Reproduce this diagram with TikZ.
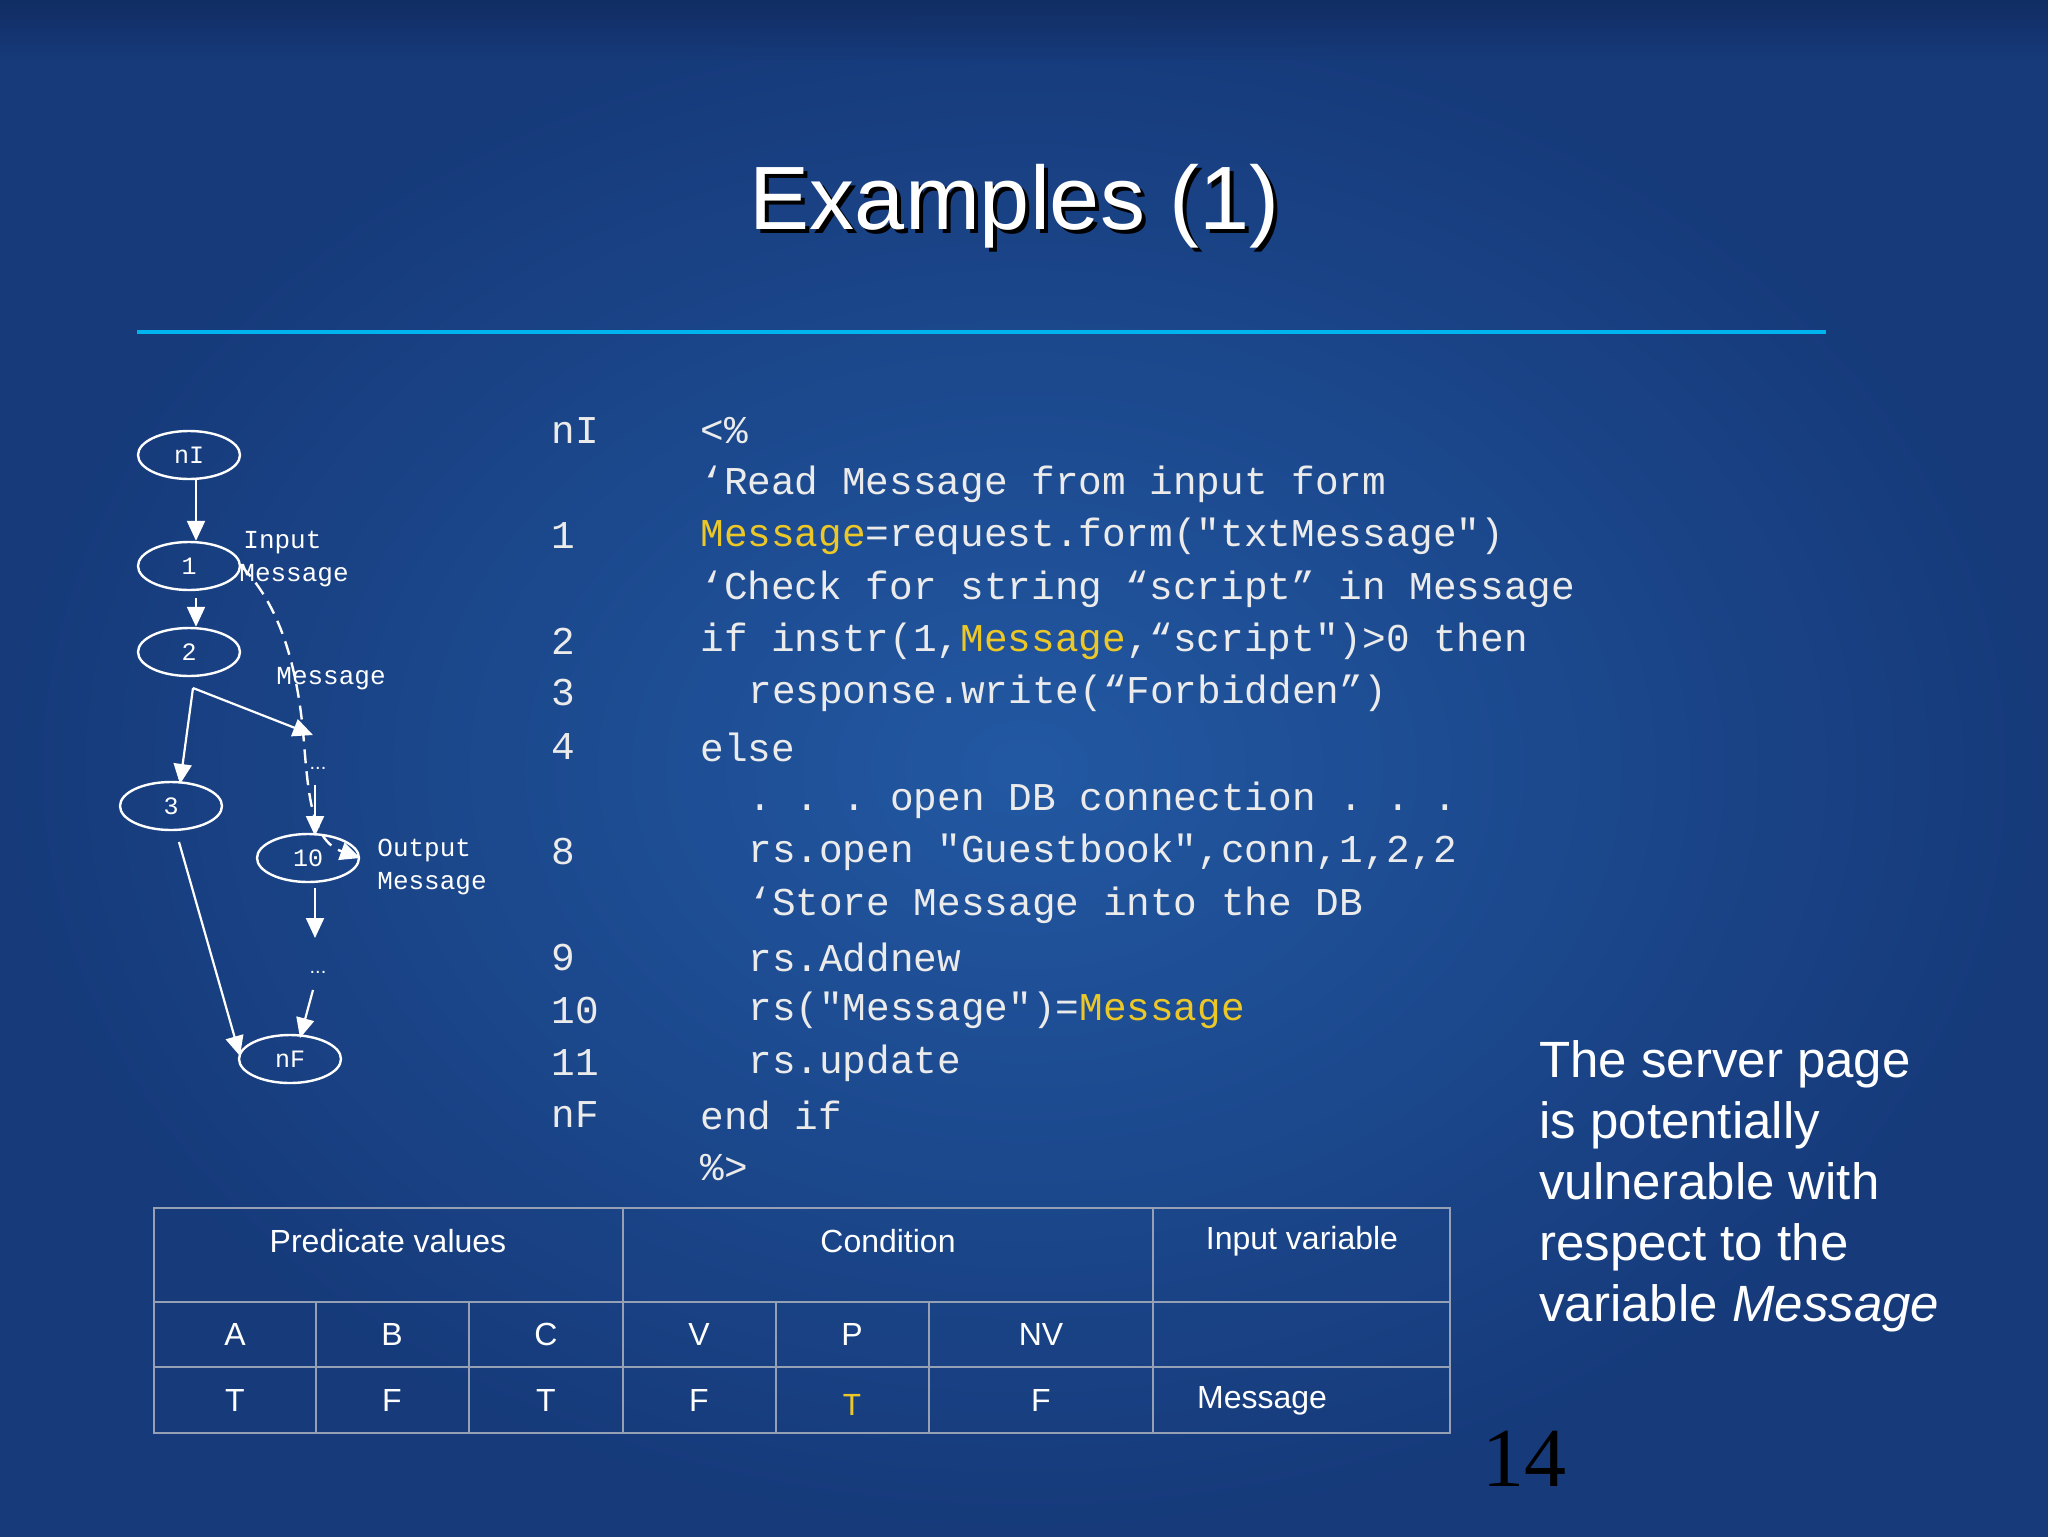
\documentclass[tikz,border=0pt]{standalone}
\usepackage{fontspec}
\setmainfont{Liberation Sans}
\newfontfamily\codefont{Liberation Mono}
\newfontfamily\numfont{Liberation Serif}
\usetikzlibrary{arrows.meta,shapes.geometric}
\definecolor{bgin}{RGB}{34,88,162}
\definecolor{bgout}{RGB}{22,58,122}
\definecolor{bgtop}{RGB}{16,40,90}
\definecolor{rule}{RGB}{0,180,240}
\definecolor{codew}{RGB}{235,235,235}
\definecolor{hl}{RGB}{235,200,40}
\definecolor{tabline}{RGB}{150,160,180}
\tikzset{
 gnode/.style={ellipse,draw=white,line width=1.2pt,minimum width=51pt,minimum height=24pt,inner sep=0pt,text=white,font=\codefont\fontsize{12.5}{12.5}\selectfont},
 glabel/.style={anchor=west,text=white,font=\codefont\fontsize{13}{14}\selectfont,inner sep=0pt,align=left},
 garrow/.style={draw=white,line width=1.1pt,-{Triangle[width=9pt,length=10pt]}},
 code/.style={anchor=west,text=codew,font=\codefont\fontsize{19.7}{22}\selectfont,inner sep=0pt},
 tab/.style={text=white,font=\fontsize{16}{18}\selectfont,inner sep=0pt},
}
\begin{document}
\begin{tikzpicture}[x=0.5pt,y=-0.5pt]
\useasboundingbox (0,0) rectangle (2048,1536);
\shade[inner color=bgin,outer color=bgout] (0,0) rectangle (2048,1536);
\shade[top color=bgtop,bottom color=bgout,opacity=0.7] (0,0) rectangle (2048,60);
% title
\node[text=black,font=\fontsize{45}{50}\selectfont] at (1019,210) {Examples (1)};
\node[text=white,font=\fontsize{45}{50}\selectfont] (title) at (1015,206) {Examples (1)};
\draw[rule,line width=2pt] (137,332) -- (1826,332);
% graph
\node[gnode] (nI) at (189,455) {\raisebox{-4pt}{nI}};
\node[gnode] (n1) at (189,566) {\raisebox{-6pt}{1}};
\node[gnode] (n2) at (189,652) {\raisebox{-6pt}{2}};
\node[gnode] (n3) at (171,806) {\raisebox{-6pt}{3}};
\node[gnode] (n10) at (308,858) {\raisebox{-6pt}{10}};
\node[gnode] (nF) at (290,1059) {\raisebox{-6pt}{nF}};
\coordinate (b) at (193,688);
\node[text=white,font=\fontsize{10}{10}\selectfont,inner sep=1pt] (d1) at (318,768) {...};
\node[text=white,font=\fontsize{10}{10}\selectfont,inner sep=1pt] (d2) at (318,972) {...};
\coordinate (a1) at (196,479);
\coordinate (a2) at (196,598);
\coordinate (a3) at (315,785);
\coordinate (a4) at (315,888);
\coordinate (a5) at (313,990);
\coordinate (a6) at (179,842);
\draw[garrow] (a1) -- (n1.north -| a1);
\draw[garrow] (a2) -- (n2.north -| a2);
\draw[garrow] (b) -- (180,784);
\draw[garrow] (b) -- (313,735);
\draw[garrow] (a3) -- (315,836);
\draw[garrow] (a4) -- (315,938);
\draw[garrow] (a5) -- (300,1038);
\draw[garrow] (a6) -- (240,1056);
\draw[white,line width=1.2pt,dash pattern=on 7pt off 4pt,-{Triangle[width=9pt,length=10pt]}] (n1.east) .. controls (285,610) and (298,680) .. (303,731) .. controls (308,790) and (310,840) .. (n10.east);
\node[glabel] (l1) at (243,543) {Input};
\node[glabel] (l2) at (239,576) {Message};
\node[glabel] (l3) at (276,679) {Message};
\node[glabel] (l4) at (377,850) {Output};
\node[glabel] (l5) at (377,884) {Message};
% code
\foreach \t/\y in {nI/431,1/536,2/641,3/693,4/747,8/852,9/957,10/1010,11/1063,nF/1115}
  \node[code] at (551,\y) {\t};
\node[code] (c1) at (700,431) {<\%};
\node[code] (c2) at (700,484) {‘Read Message from input form};
\node[code] (c3) at (700,536) {\textcolor{hl}{Message}=request.form("txtMessage")};
\node[code] (c4) at (700,589) {‘Check for string “script” in Message};
\node[code] (c5) at (700,641) {if instr(1,\textcolor{hl}{Message},“script")>0 then};
\node[code] (c6) at (748,693) {response.write(“Forbidden”)};
\node[code] (c7) at (700,747) {else};
\node[code] (c8) at (748,800) {.\ .\ .\ open DB connection .\ .\ .};
\node[code] (c9) at (748,852) {rs.open "Guestbook",conn,1,2,2};
\node[code] (c10) at (748,905) {‘Store Message into the DB};
\node[code] (c11) at (748,957) {rs.Addnew};
\node[code] (c12) at (748,1010) {rs("Message")=\textcolor{hl}{Message}};
\node[code] (c13) at (748,1063) {rs.update};
\node[code] (c14) at (700,1115) {end if};
\node[code] (c15) at (700,1168) {\%>};
% table
\draw[tabline,line width=0.8pt] (154,1208) rectangle (1450,1433);
\draw[tabline,line width=0.8pt] (154,1302) -- (1450,1302) (154,1367) -- (1450,1367);
\draw[tabline,line width=0.8pt] (623,1208) -- (623,1433) (1153,1208) -- (1153,1433);
\foreach \x in {316,469,776,929} \draw[tabline,line width=0.8pt] (\x,1302) -- (\x,1433);
\node[tab] (h1) at (388,1241) {Predicate values};
\node[tab] (h2) at (888,1241) {Condition};
\node[tab] (h3) at (1302,1241) {Input variable};
\foreach \t/\x in {A/235,B/392,C/546,V/699,P/852,NV/1041} \node[tab] at (\x,1334) {\t};
\foreach \t/\x in {T/235,F/392,T/546,F/699,F/1041} \node[tab] at (\x,1400) {\t};
\node[tab,text=hl,font=\codefont\fontsize{16}{18}\selectfont] (tt) at (852,1405) {T};
\node[tab] (msg) at (1262,1401) {Message};
% side text
\node[anchor=north west,text=white,font=\fontsize{25.5}{30.5}\selectfont,align=left,inner sep=0pt] (side) at (1539,1040) {The server page\\is potentially\\vulnerable with\\respect to the\\variable \textit{Message}};
\node[text=black,font=\numfont\fontsize{42}{44}\selectfont] (pg) at (1524,1459) {14};
\end{tikzpicture}
\end{document}
